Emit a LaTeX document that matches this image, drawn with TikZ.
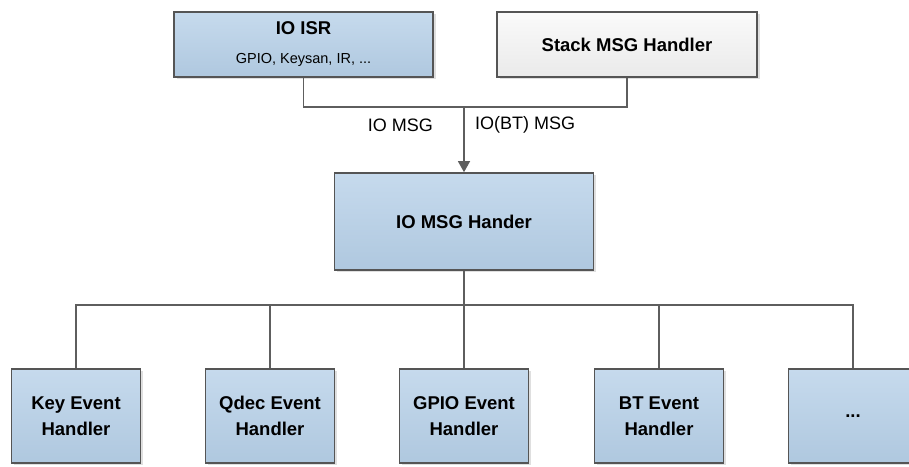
\documentclass[tikz,border=0pt]{standalone}
\usepackage{fontspec}
\setmainfont{Liberation Sans}
\usetikzlibrary{arrows.meta,shadows,calc}

\definecolor{boxline}{HTML}{555555}
\definecolor{wireline}{HTML}{5E5E5E}
\definecolor{bluetop}{HTML}{C6DAED}
\definecolor{bluebot}{HTML}{AFC8DF}
\definecolor{greytop}{HTML}{FAFAFA}
\definecolor{greybot}{HTML}{EAEAEA}

\tikzset{
  block/.style={draw=boxline, line width=1.6pt, inner sep=0pt,
    top color=bluetop, bottom color=bluebot,
    drop shadow={shadow xshift=2.5pt, shadow yshift=-2pt, fill=black!25, opacity=.5},
    font=\fontsize{18.5}{26}\selectfont\bfseries, align=center},
  plainblock/.style={block, top color=greytop, bottom color=greybot},
  handler/.style={block, minimum width=129pt, minimum height=94pt},
  wire/.style={draw=wireline, line width=1.3pt},
  msglabel/.style={font=\fontsize{18}{20}\selectfont, inner sep=0pt},
  tip/.style={-{Triangle[width=12pt,length=11pt]}}
}

\begin{document}
\begin{tikzpicture}[x=1pt, y=-1pt]
  \useasboundingbox (0,0) rectangle (909,466);

  % sources of messages
  \node[block, minimum width=259pt, minimum height=65pt] (isr) at (303.5,44.5) {};
  \node[font=\fontsize{18.5}{20}\selectfont\bfseries, inner sep=0pt] (isrtitle) at ($(isr.center)+(0,-16)$) {IO ISR};
  \node[font=\fontsize{14.5}{16}\selectfont, inner sep=0pt] (isrsub) at ($(isr.center)+(0,15.5)$) {GPIO, Keysan, IR, ...};
  \node[plainblock, minimum width=260pt, minimum height=65pt] (stack) at (627,44.5) {Stack MSG Handler};

  % central dispatcher
  \node[block, minimum width=259pt, minimum height=97pt] (mid) at (464,221.5) {IO MSG Hander};

  % event handlers
  \node[handler] (k1) at (76,416) {Key Event\\Handler};
  \node[handler] (k2) at (270,416) {Qdec Event\\Handler};
  \node[handler] (k3) at (464,416) {GPIO Event\\Handler};
  \node[handler] (k4) at (659,416) {BT Event\\Handler};
  \node[handler] (k5) at (853,416) {...};

  % message merge and arrow
  \coordinate (join) at (464,107);
  \draw[wire] (isr.south) |- (join) -| (stack.south);
  \draw[wire, tip, fill=wireline] (join) -- (mid.north);
  \node[msglabel, anchor=east] (lblio) at (433,125) {IO MSG};
  \node[msglabel, anchor=west] (lblbt) at (475,125) {IO(BT) MSG};

  % distribution bus
  \coordinate (bus) at (464,305);
  \draw[wire] (mid.south) -- (bus);
  \draw[wire] (k1.north) |- (bus) -| (k5.north);
  \draw[wire] (k2.north) -- (k2.north |- bus);
  \draw[wire] (k3.north) -- (k3.north |- bus);
  \draw[wire] (k4.north) -- (k4.north |- bus);
\end{tikzpicture}
\end{document}
